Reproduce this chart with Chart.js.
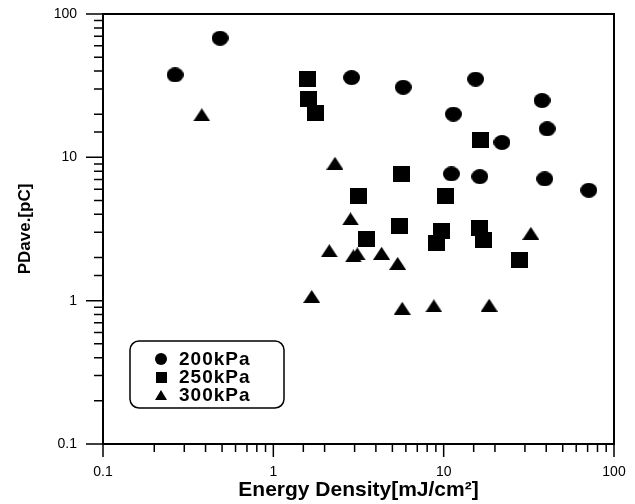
<!DOCTYPE html>
<html>
<head>
<meta charset="utf-8">
<script src="https://cdn.jsdelivr.net/npm/chart.js@4/dist/chart.umd.min.js"></script>
<style>
  html, body { margin: 0; padding: 0; background: #fff; }
  canvas { display: block; }
</style>
</head>
<body>
<canvas id="chart" width="635" height="504"></canvas>
<script>
// series names
const seriesLabels = ['200kPa', '250kPa', '300kPa'];

// 200kPa
const x200 = [0.265, 0.487, 2.88, 5.79, 15.4, 11.4, 37.8, 40.5, 22.0, 11.1, 16.3, 39.2, 71.1];
const y200 = [37.6, 67.8, 36.0, 30.8, 35.1, 20.0, 24.9, 15.8, 12.7, 7.66, 7.33, 7.07, 5.89];

// 250kPa
const x250 = [1.58, 1.60, 1.76, 16.5, 5.66, 3.15, 10.26, 5.53, 9.72, 16.3, 3.53, 9.09, 17.1, 28.0];
const y250 = [35.4, 25.6, 20.3, 13.2, 7.66, 5.38, 5.38, 3.34, 3.08, 3.23, 2.68, 2.51, 2.65, 1.92];

// 300kPa
const x300 = [0.38, 2.30, 2.84, 32.5, 2.13, 2.95, 3.11, 4.32, 5.37, 1.68, 5.71, 8.76, 18.5];
const y300 = [19.8, 9.1, 3.72, 2.95, 2.23, 2.05, 2.12, 2.14, 1.82, 1.07, 0.885, 0.92, 0.93];

// decade labels on both axes
const decadeValues = [0.1, 1, 10, 100];
const decadeLabels = ['0.1', '1', '10', '100'];

const FONT = '"Liberation Sans", Arial, Helvetica, sans-serif';

function makeMarker(shape, w, h) {
    const c = document.createElement('canvas');
    c.width = w; c.height = h;
    const g = c.getContext('2d');
    g.fillStyle = '#000';
    g.beginPath();
    if (shape === 'circle') g.ellipse(w / 2, h / 2, w / 2, h / 2, 0, 0, Math.PI * 2);
    else if (shape === 'square') g.rect(0, 0, w, h);
    else { g.moveTo(w / 2, 0); g.lineTo(w, h); g.lineTo(0, h); g.closePath(); }
    g.fill();
    return c;
}

const markers = [
    makeMarker('circle', 17, 15),
    makeMarker('square', 17, 16),
    makeMarker('triangle', 17, 13)
];
const legendMarkers = [
    makeMarker('circle', 12, 12),
    makeMarker('square', 11, 11),
    makeMarker('triangle', 12, 10)
];

function toPoints(xs, ys) {
    return xs.map((x, i) => ({ x, y: ys[i] }));
}

function isDecade(v) {
    const l = Math.log10(v);
    return Math.abs(l - Math.round(l)) < 1e-6;
}

function decadeLabel(v) {
    const i = decadeValues.findIndex(d => Math.abs(d - v) / d < 1e-6);
    return i >= 0 ? decadeLabels[i] : '';
}

// frame on top/right plus long/short tick marks
const frameAndTicks = {
    id: 'frameAndTicks',
    afterDraw(chart) {
        const { ctx, chartArea: a, scales: { x, y } } = chart;
        ctx.save();
        ctx.strokeStyle = '#000';
        ctx.lineWidth = 2;
        ctx.beginPath();
        ctx.moveTo(a.left, a.top);
        ctx.lineTo(a.right, a.top);
        ctx.lineTo(a.right, a.bottom);
        ctx.stroke();

        ctx.lineWidth = 1.5;
        ctx.beginPath();
        y.ticks.forEach(t => {
            const py = y.getPixelForValue(t.value);
            const len = isDecade(t.value) ? 17 : 9;
            ctx.moveTo(a.left, py);
            ctx.lineTo(a.left - len, py);
        });
        x.ticks.forEach(t => {
            const px = x.getPixelForValue(t.value);
            const len = isDecade(t.value) ? 13 : 8;
            ctx.moveTo(px, a.bottom);
            ctx.lineTo(px, a.bottom + len);
        });
        ctx.stroke();
        ctx.restore();
    }
};

// boxed legend inside the plot
const boxLegend = {
    id: 'boxLegend',
    afterDraw(chart) {
        const ctx = chart.ctx;
        const bx = 130, by = 341, bw = 154, bh = 67, r = 9;
        ctx.save();
        ctx.strokeStyle = '#000';
        ctx.lineWidth = 1.5;
        ctx.beginPath();
        ctx.roundRect(bx, by, bw, bh, r);
        ctx.stroke();

        ctx.fillStyle = '#000';
        ctx.font = 'bold 19px ' + FONT;
        ctx.letterSpacing = '1px';
        ctx.textBaseline = 'middle';
        chart.data.datasets.forEach((ds, i) => {
            const cy = 359 + i * 18;
            const m = legendMarkers[i];
            ctx.drawImage(m, 161 - m.width / 2, cy - m.height / 2);
            ctx.fillText(ds.label, 179, cy + 1);
        });
        ctx.restore();
    }
};

Chart.defaults.font.family = FONT;
Chart.defaults.color = '#000';

new Chart(document.getElementById('chart'), {
    type: 'scatter',
    data: {
        datasets: [
            { label: seriesLabels[0], data: toPoints(x200, y200), pointStyle: markers[0] },
            { label: seriesLabels[1], data: toPoints(x250, y250), pointStyle: markers[1] },
            { label: seriesLabels[2], data: toPoints(x300, y300), pointStyle: markers[2] }
        ]
    },
    options: {
        responsive: false,
        animation: false,
        layout: { autoPadding: false, padding: { left: 0, top: 14, right: 21, bottom: 0 } },
        elements: { point: { radius: 8, hoverRadius: 8 } },
        plugins: { legend: { display: false }, tooltip: { enabled: false } },
        scales: {
            x: {
                type: 'logarithmic',
                min: 0.1,
                max: 100,
                afterFit: s => { s.height = 60; s.paddingLeft = 0; s.paddingRight = 0; },
                grid: { display: false, drawTicks: false },
                border: { display: true, color: '#000', width: 2 },
                ticks: {
                    autoSkip: false,
                    maxRotation: 0,
                    padding: 20,
                    font: { size: 14 },
                    callback: v => decadeLabel(v)
                },
                title: {
                    display: true,
                    text: 'Energy Density[mJ/cm²]',
                    font: { size: 21, weight: 'bold' },
                    padding: { top: 0, bottom: 1 }
                }
            },
            y: {
                type: 'logarithmic',
                min: 0.1,
                max: 100,
                afterFit: s => { s.width = 103; s.paddingTop = 0; s.paddingBottom = 0; },
                grid: { display: false, drawTicks: false },
                border: { display: true, color: '#000', width: 2 },
                ticks: {
                    autoSkip: false,
                    padding: 26,
                    font: { size: 14 },
                    callback: v => decadeLabel(v)
                },
                title: {
                    display: true,
                    text: 'PDave.[pC]',
                    font: { size: 17, weight: 'bold' },
                    padding: { top: 15, bottom: 0 }
                }
            }
        }
    },
    plugins: [frameAndTicks, boxLegend]
});
</script>
</body>
</html>
